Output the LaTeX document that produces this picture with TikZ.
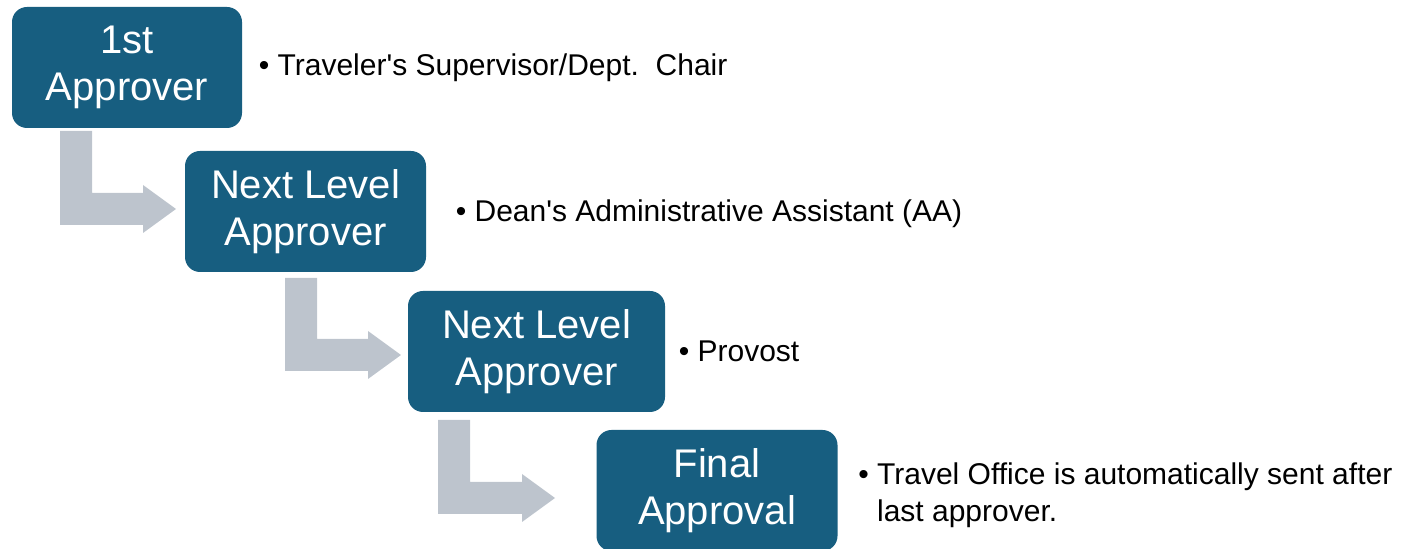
\documentclass[tikz,border=0pt]{standalone}
\usepackage{fontspec}
\setmainfont{Liberation Sans}
\usetikzlibrary{positioning,calc}
\definecolor{boxblue}{RGB}{23,94,128}
\definecolor{arrowgray}{RGB}{189,196,205}
\newcommand\bentarrow[2]{%
	\fill [arrowgray] (#1) -- ($(#1)+(32,0)$) -- ($(#1|-#2)+(32,-16)$) -- ($(#2)+(-33,-16)$)
		-- ($(#2)+(-33,-24)$) -- (#2) -- ($(#2)+(-33,24)$) -- ($(#2)+(-33,16)$)
		-- ($(#1|-#2)+(0,16)$) -- cycle;}
\begin{document}
\begin{tikzpicture}[x=0.5pt,y=-0.5pt,
	stage/.style={fill=boxblue,rounded corners=7.5pt,text=white,align=center,
		minimum height=60.5pt,inner sep=0pt,font=\fontsize{20}{23.5}\selectfont},
	note/.style={anchor=west,inner sep=0pt,align=left,font=\fontsize{15}{18.5}\selectfont}]
			\useasboundingbox (0,0) rectangle (1420,549);
			\node [stage,minimum width=115pt] (app1) at (127,67.5) {1st\\Approver};
			\node [stage,minimum width=120.5pt] (app2) at (305.5,211.5) {Next Level\\Approver};
			\node [stage,minimum width=128.5pt] (app3) at (536.5,351.5) {Next Level\\Approver};
			\node [stage,minimum width=120.5pt] (fin) at (717,490.5) {Final\\Approval};
			\node [note,right=8pt of app1] (who1) {\textbullet\ Traveler\textquotesingle s Supervisor/Dept.\ \ Chair};
			\node [note,right=14.5pt of app2,yshift=-1pt] (who2) {\textbullet\ Dean\textquotesingle s Administrative Assistant (AA)};
			\node [note,right=6.5pt of app3] (who3) {\textbullet\ Provost};
			\node [note,right=10pt of fin,yshift=-2.5pt] (who4) {\textbullet\ Travel Office is automatically sent after\\\hphantom{\textbullet\ }last approver.};
			\coordinate (s1) at (60,131);
			\coordinate (t1) at (176,209);
			\coordinate (s2) at (285,278);
			\coordinate (t2) at (401,355);
			\coordinate (s3) at (438,420);
			\coordinate (t3) at (555,498);
			\bentarrow{s1}{t1}
			\bentarrow{s2}{t2}
			\bentarrow{s3}{t3}
\end{tikzpicture}
\end{document}
